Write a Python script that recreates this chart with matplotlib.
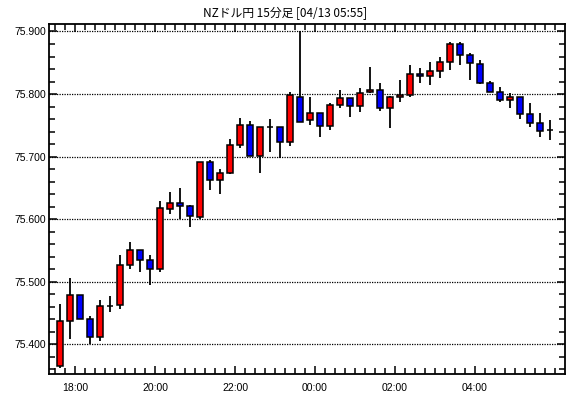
import numpy as np
import matplotlib
matplotlib.use('Agg')
import matplotlib.pyplot as plt
from matplotlib.ticker import FixedLocator, MultipleLocator, FormatStrFormatter

# 15分足 NZドル円 (17:30 - 05:45)
opens = [75.365, 75.438, 75.478, 75.440, 75.411, 75.461, 75.462, 75.526, 75.550, 75.534,
         75.521, 75.616, 75.626, 75.621, 75.604, 75.691, 75.662, 75.673, 75.719, 75.751,
         75.701, 75.747, 75.748, 75.723, 75.796, 75.758, 75.770, 75.749, 75.783, 75.794,
         75.781, 75.804, 75.807, 75.777, 75.795, 75.799, 75.832, 75.829, 75.837, 75.851,
         75.880, 75.863, 75.848, 75.818, 75.803, 75.791, 75.795, 75.768, 75.754, 75.742]
highs = [75.465, 75.506, 75.478, 75.445, 75.471, 75.477, 75.543, 75.564, 75.550, 75.543,
         75.629, 75.644, 75.650, 75.623, 75.691, 75.694, 75.680, 75.728, 75.761, 75.757,
         75.747, 75.760, 75.748, 75.804, 75.900, 75.796, 75.770, 75.786, 75.806, 75.794,
         75.809, 75.843, 75.817, 75.797, 75.823, 75.846, 75.842, 75.852, 75.860, 75.883,
         75.883, 75.866, 75.854, 75.821, 75.812, 75.802, 75.795, 75.786, 75.769, 75.759]
lows = [75.362, 75.409, 75.440, 75.400, 75.406, 75.451, 75.457, 75.521, 75.515, 75.495,
        75.515, 75.609, 75.600, 75.588, 75.600, 75.647, 75.641, 75.672, 75.714, 75.701,
        75.673, 75.708, 75.698, 75.717, 75.756, 75.751, 75.732, 75.743, 75.778, 75.764,
        75.771, 75.801, 75.773, 75.745, 75.787, 75.795, 75.817, 75.814, 75.825, 75.838,
        75.846, 75.822, 75.816, 75.803, 75.787, 75.777, 75.760, 75.747, 75.731, 75.726]
closes = [75.438, 75.478, 75.440, 75.411, 75.461, 75.461, 75.526, 75.550, 75.534, 75.521,
          75.618, 75.626, 75.621, 75.605, 75.691, 75.663, 75.673, 75.719, 75.751, 75.701,
          75.747, 75.747, 75.723, 75.799, 75.756, 75.770, 75.749, 75.783, 75.794, 75.781,
          75.802, 75.807, 75.777, 75.795, 75.799, 75.832, 75.829, 75.837, 75.851, 75.880,
          75.863, 75.849, 75.818, 75.803, 75.791, 75.795, 75.768, 75.754, 75.741, 75.742]

time_labels = ['18:00', '20:00', '22:00', '00:00', '02:00', '04:00']
label_bars = [2, 10, 18, 26, 34, 42]   # 各ラベルの足 (17:30 が 0)
y_levels = [75.400, 75.500, 75.600, 75.700, 75.800, 75.900]
title = 'NZドル円 15分足 [04/13 05:55]'

o = np.array(opens)
h = np.array(highs)
l = np.array(lows)
c = np.array(closes)
x = np.arange(len(o))

fig = plt.figure(figsize=(5.70, 3.98), dpi=100)
ax = fig.add_axes([49.3 / 570, 23.7 / 398, (565 - 49.3) / 570, (374.3 - 24.3) / 398])

# グリッド
for v in y_levels:
    ax.axhline(v, color='black', lw=0.9, ls=(0, (1, 1)), zorder=1)

colors = np.where(c > o, '#ff0000', np.where(c < o, '#0000ff', 'black'))
ax.vlines(x, l, h, color='black', lw=1.3, zorder=2)
body_lo = np.minimum(o, c)
body_h = np.abs(c - o)
ax.bar(x, body_h, bottom=body_lo, width=0.62, color=colors, edgecolor='black',
       linewidth=1.1, zorder=3)

ax.set_xlim(-1.07, 50.5)
ax.set_ylim(75.352, 75.9115)

ax.xaxis.set_major_locator(FixedLocator([b - 0.5 for b in label_bars]))
ax.xaxis.set_minor_locator(FixedLocator(np.arange(-0.5, 50, 1)))
ax.set_xticklabels(time_labels)
ax.yaxis.set_major_locator(FixedLocator(y_levels))
ax.yaxis.set_minor_locator(MultipleLocator(0.02))
ax.yaxis.set_major_formatter(FormatStrFormatter('%.3f'))

ax.tick_params(which='both', direction='in', top=True, right=True, width=1.1,
               labelsize=7.5, colors='black')
ax.tick_params(which='major', length=6)
ax.tick_params(which='minor', length=4)
ax.tick_params(axis='x', pad=6)
ax.tick_params(axis='y', pad=2)
for lab in ax.get_xticklabels() + ax.get_yticklabels():
    lab.set_family('Liberation Sans')

for s in ax.spines.values():
    s.set_linewidth(1.3)

fig.text(0.5, 1 - 13 / 398, title, ha='center', va='center', fontsize=8.5,
         family=['Noto Sans CJK JP', 'DejaVu Sans'])

fig.savefig('out.png', dpi=100)
